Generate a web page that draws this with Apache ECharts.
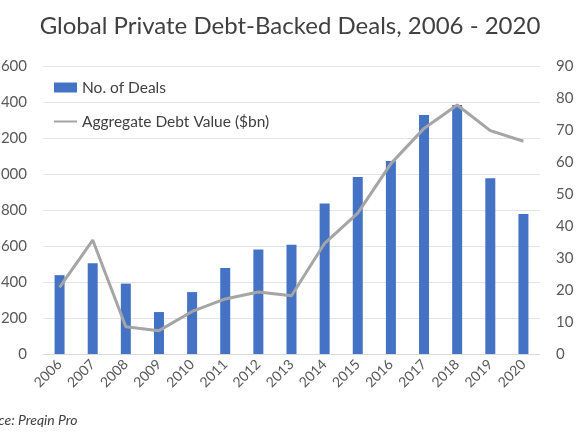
<!DOCTYPE html>
<html>
<head>
<meta charset="utf-8">
<title>Global Private Debt-Backed Deals</title>
<script src="https://cdn.jsdelivr.net/npm/echarts@6/dist/echarts.min.js"></script>
<style>
  html, body { margin: 0; padding: 0; background: #fff; }
  #chart { width: 580px; height: 435px; }
</style>
</head>
<body>
<div id="chart"></div>
<script>
var years = ['2006', '2007', '2008', '2009', '2010', '2011', '2012', '2013',
  '2014', '2015', '2016', '2017', '2018', '2019', '2020'];
// number of deals (left axis)
var dealCount = [438, 504, 391, 233, 344, 478, 581, 607, 836, 983, 1072, 1328, 1383, 976, 778];
// aggregate debt value in $bn (right axis)
var debtValue = [20.8, 35.6, 8.5, 7.3, 13.3, 17.2, 19.4, 18.2, 34.6, 44, 59.5, 70.5, 77.8, 69.8, 66.5];
var leftTicks = [0, 1600, 200];
var rightTicks = [0, 90, 10];

var labelColor = '#595959';
var gridColor = '#e4e4e4';

var chart = echarts.init(document.getElementById('chart'));
chart.setOption({
  textStyle: { fontFamily: 'Lato, "Noto Sans", sans-serif' },
  title: {
    text: 'Global Private Debt-Backed Deals, 2006 - 2020',
    left: 'center',
    top: 9,
    textStyle: { fontSize: 24, fontWeight: 'normal', color: '#404040' }
  },
  legend: {
    orient: 'vertical',
    left: 48,
    top: 72,
    itemWidth: 23,
    itemHeight: 10,
    itemGap: 13,
    textStyle: { fontSize: 15.5, color: '#404040', lineHeight: 21 },
    data: [
      { name: 'No. of Deals', icon: 'rect' },
      { name: 'Aggregate Debt Value ($bn)', itemStyle: { opacity: 0 } }
    ]
  },
  grid: { left: 43, right: 40, top: 66, bottom: 81, outerBoundsMode: 'none' },
  xAxis: {
    type: 'category',
    data: years,
    axisLine: { lineStyle: { color: '#d9d9d9', width: 1 } },
    axisTick: { show: false },
    axisLabel: { rotate: 45, fontSize: 14, color: labelColor, margin: 8, interval: 0 }
  },
  yAxis: [
    {
      type: 'value',
      min: leftTicks[0],
      max: leftTicks[1],
      interval: leftTicks[2],
      axisLine: { show: false },
      axisTick: { show: false },
      axisLabel: { fontSize: 15, color: labelColor, margin: 16, formatter: '{value}' },
      splitLine: { lineStyle: { color: gridColor, width: 1 } }
    },
    {
      type: 'value',
      min: rightTicks[0],
      max: rightTicks[1],
      interval: rightTicks[2],
      axisLine: { show: false },
      axisTick: { show: false },
      axisLabel: { fontSize: 15, color: labelColor, margin: 16 },
      splitLine: { show: false }
    }
  ],
  series: [
    {
      name: 'No. of Deals',
      type: 'bar',
      data: dealCount,
      barWidth: 10,
      itemStyle: { color: '#4472c4' }
    },
    {
      name: 'Aggregate Debt Value ($bn)',
      type: 'line',
      yAxisIndex: 1,
      data: debtValue,
      symbol: 'none',
      lineStyle: { color: '#a5a5a5', width: 3 },
      itemStyle: { color: '#a5a5a5' }
    }
  ],
  graphic: [
    {
      type: 'text',
      left: -28,
      top: 413,
      style: {
        text: 'Source: Preqin Pro',
        fontSize: 14,
        fontStyle: 'italic',
        fill: '#404040',
        fontFamily: 'Lato, "Noto Sans", sans-serif'
      }
    }
  ]
});
</script>
</body>
</html>
